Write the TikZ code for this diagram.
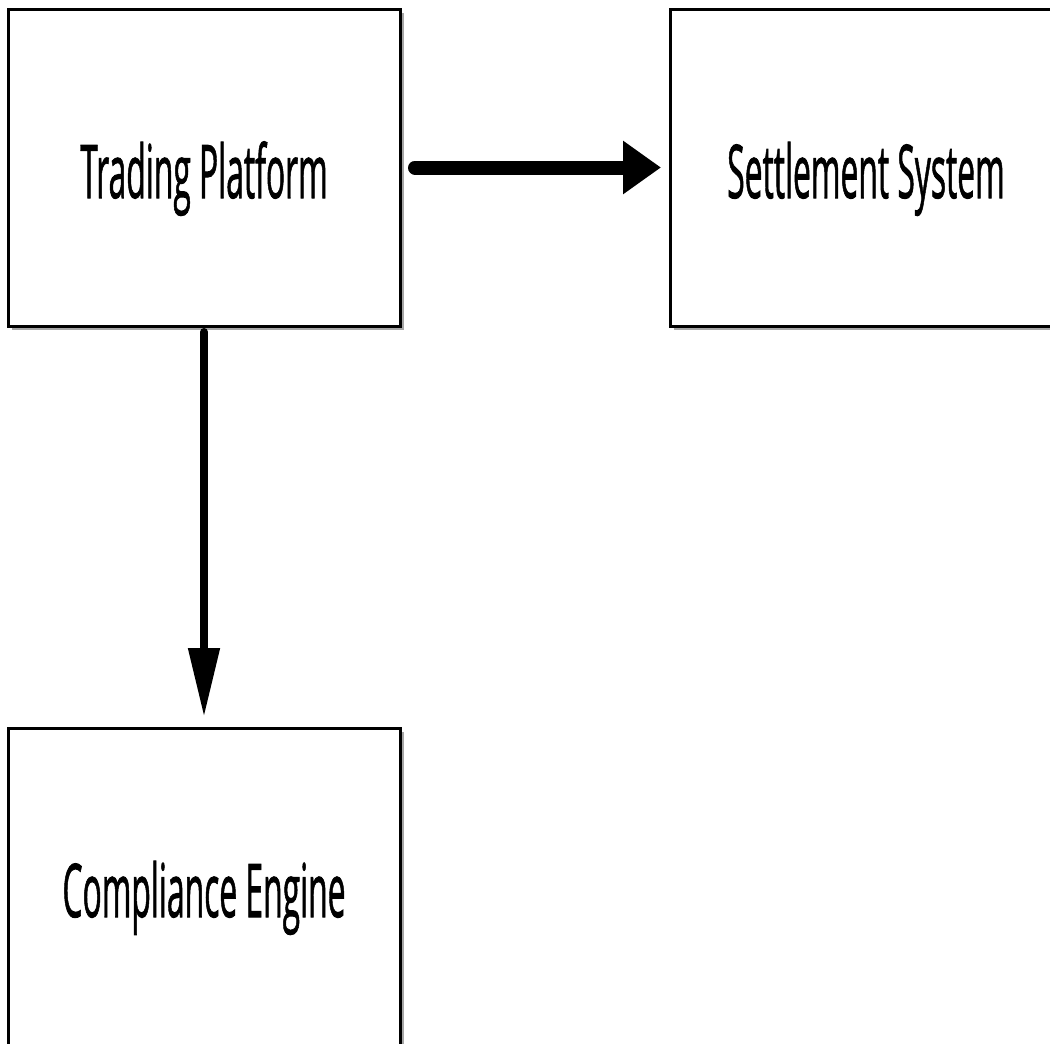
\documentclass[tikz,border=0pt]{standalone}
\usepackage{fontspec}
\setmainfont{Open Sans}
\newfontfamily\boxfont{Open Sans}[FakeBold=1.4]
\usepackage{tikz}
\usetikzlibrary{arrows.meta,positioning,shadows}
\newcommand{\narrow}[1]{\scalebox{0.43}[1]{#1}}

\begin{document}
\begin{tikzpicture}[
  x=1pt, y=-1pt,
  sysbox/.style={rectangle, draw=black, line width=3pt, fill=white,
              minimum width=392pt, minimum height=317pt, inner sep=0pt, outer sep=0pt,
              text depth=0pt, text height=61pt, font=\boxfont\fontsize{74}{80}\selectfont,
              drop shadow={shadow xshift=4pt, shadow yshift=-4pt, fill=black, opacity=0.35}},
  harr/.style={-{Triangle[length=38pt, width=51pt]}, line width=14pt, line cap=round},
  varr/.style={-{Triangle[length=69pt, width=30pt]}, line width=8pt, line cap=round},
]
\useasboundingbox[fill=white] (0,0) rectangle (1050,1044);
\node[sysbox] (trade) at (204,167.5) {\narrow{Trading Platform}};
\node[sysbox, right=270pt of trade] (settle) {\narrow{Settlement System}};
\node[sysbox, below=402pt of trade] (comp) {\narrow{Compliance Engine}};
\draw[harr] ([xshift=15pt]trade.east) -- ([xshift=-9pt]settle.west);
\draw[varr] ([yshift=-6pt]trade.south) -- ([yshift=11pt]comp.north);
\end{tikzpicture}
\end{document}
